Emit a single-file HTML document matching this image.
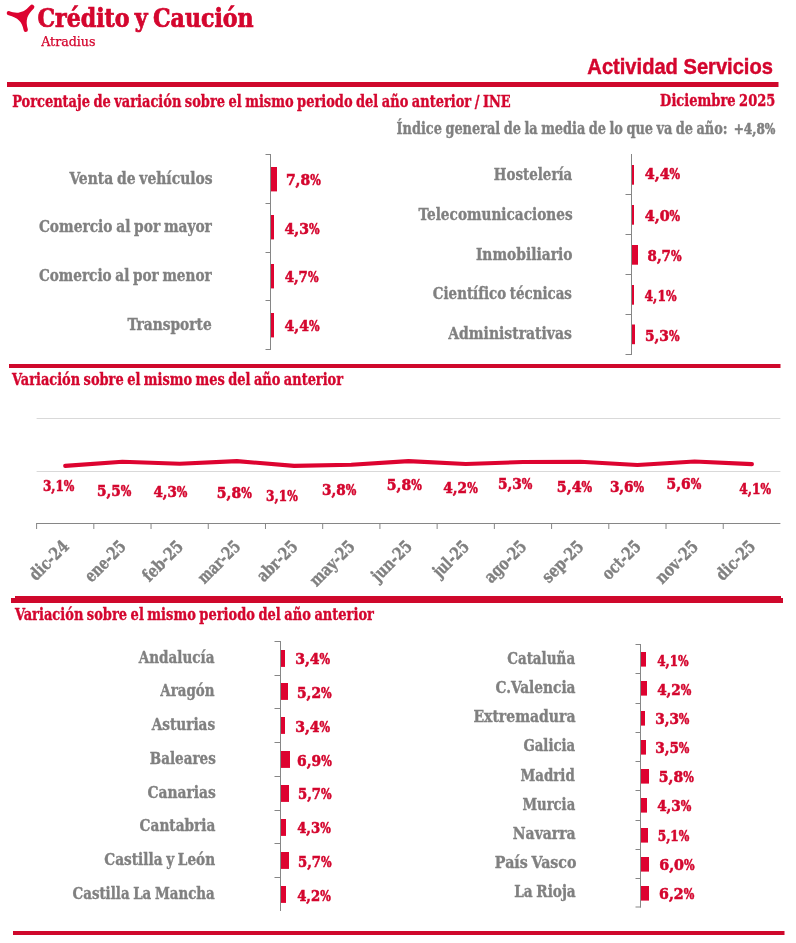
<!DOCTYPE html>
<html lang="es">
<head>
<meta charset="utf-8">
<title>Actividad Servicios - Crédito y Caución</title>
<style>
html,body{margin:0;padding:0;background:#fff}
body{width:796px;height:943px;overflow:hidden;font-family:'DejaVu Serif Condensed','DejaVu Serif','Liberation Serif',serif}
svg{display:block;will-change:transform;transform:translateZ(0)}
text{white-space:pre}
</style>
</head>
<body>
<svg width="796" height="943" viewBox="0 0 796 943">
<rect width="796" height="943" fill="#ffffff"/>
<path fill="#dd0330" d="M8.9 11.1 C16 13.6 22.5 14.2 30.2 5.5 A2.3 2.3 0 0 1 33.8 8.6 C27.5 14.5 25 20 27.9 29.6 A2.15 2.15 0 0 1 23.6 30 C22 21.5 18 17.8 8.6 15.2 A2.05 2.05 0 0 1 8.9 11.1 Z"/>
<text x="37.39" y="27.4" font-size="25.6" fill="#d4062e" font-weight="bold" font-family="'DejaVu Serif Condensed','DejaVu Serif','Liberation Serif',serif" stroke="#d4062e" stroke-width="0.7" word-spacing="-2.5" textLength="216.29" lengthAdjust="spacingAndGlyphs">Crédito y Caución</text>
<text x="41.20" y="46.2" font-size="12.4" fill="#d4062e" font-weight="normal" font-family="'DejaVu Serif Condensed','DejaVu Serif','Liberation Serif',serif" stroke="#d4062e" stroke-width="0.25" textLength="54.30" lengthAdjust="spacingAndGlyphs">Atradius</text>
<text x="587.36" y="73.5" font-size="22" fill="#d4062e" font-weight="bold" font-family="'Liberation Sans','DejaVu Sans',sans-serif" stroke="#d4062e" stroke-width="0.45" textLength="185.57" lengthAdjust="spacingAndGlyphs">Actividad Servicios</text>
<rect x="7.00" y="82.00" width="771.50" height="5.00" fill="#cf082c"/>
<text x="12.15" y="106.8" font-size="17.0" fill="#d4062e" font-weight="bold" font-family="'DejaVu Serif Condensed','DejaVu Serif','Liberation Serif',serif" stroke="#d4062e" stroke-width="0.35" word-spacing="-1.2" textLength="498.61" lengthAdjust="spacingAndGlyphs">Porcentaje de variación sobre el mismo periodo del año anterior / INE</text>
<text x="660.08" y="106.2" font-size="17.0" fill="#d4062e" font-weight="bold" font-family="'DejaVu Serif Condensed','DejaVu Serif','Liberation Serif',serif" stroke="#d4062e" stroke-width="0.35" word-spacing="-1.2" textLength="115.26" lengthAdjust="spacingAndGlyphs">Diciembre 2025</text>
<text x="396.52" y="133.5" font-size="17.0" fill="#808080" font-weight="bold" font-family="'DejaVu Serif Condensed','DejaVu Serif','Liberation Serif',serif" stroke="#808080" stroke-width="0.35" word-spacing="-1.2" textLength="331.11" lengthAdjust="spacingAndGlyphs">Índice general de la media de lo que va de año:</text>
<text x="733.63" y="133.5" font-size="15.5" fill="#808080" font-weight="bold" font-family="'DejaVu Serif Condensed','DejaVu Serif','Liberation Serif',serif" stroke="#808080" stroke-width="0.55"><tspan textLength="31.18" lengthAdjust="spacingAndGlyphs">+4,8</tspan><tspan textLength="10.60" lengthAdjust="spacingAndGlyphs">%</tspan></text>
<line x1="270.50" y1="154.00" x2="270.50" y2="350.00" stroke="#868686" stroke-width="1"/>
<line x1="265.50" y1="154.50" x2="271.00" y2="154.50" stroke="#868686" stroke-width="1"/>
<line x1="265.50" y1="203.50" x2="271.00" y2="203.50" stroke="#868686" stroke-width="1"/>
<line x1="265.50" y1="252.50" x2="271.00" y2="252.50" stroke="#868686" stroke-width="1"/>
<line x1="265.50" y1="300.50" x2="271.00" y2="300.50" stroke="#868686" stroke-width="1"/>
<line x1="265.50" y1="349.50" x2="271.00" y2="349.50" stroke="#868686" stroke-width="1"/>
<rect x="271.00" y="167.00" width="6.00" height="24.40" fill="#dd0330"/>
<text x="69.48" y="183.7" font-size="17.0" fill="#808080" font-weight="bold" font-family="'DejaVu Serif Condensed','DejaVu Serif','Liberation Serif',serif" stroke="#808080" stroke-width="0.35" word-spacing="-1.2" textLength="143.18" lengthAdjust="spacingAndGlyphs">Venta de vehículos</text>
<text x="285.93" y="184.8" font-size="15.5" fill="#d4062e" font-weight="bold" font-family="'DejaVu Serif Condensed','DejaVu Serif','Liberation Serif',serif" stroke="#d4062e" stroke-width="0.55"><tspan textLength="24.20" lengthAdjust="spacingAndGlyphs">7,8</tspan><tspan textLength="10.60" lengthAdjust="spacingAndGlyphs">%</tspan></text>
<rect x="271.00" y="215.00" width="3.00" height="24.40" fill="#dd0330"/>
<text x="38.89" y="232.2" font-size="17.0" fill="#808080" font-weight="bold" font-family="'DejaVu Serif Condensed','DejaVu Serif','Liberation Serif',serif" stroke="#808080" stroke-width="0.35" word-spacing="-1.2" textLength="173.00" lengthAdjust="spacingAndGlyphs">Comercio al por mayor</text>
<text x="284.59" y="233.6" font-size="15.5" fill="#d4062e" font-weight="bold" font-family="'DejaVu Serif Condensed','DejaVu Serif','Liberation Serif',serif" stroke="#d4062e" stroke-width="0.55"><tspan textLength="24.33" lengthAdjust="spacingAndGlyphs">4,3</tspan><tspan textLength="10.60" lengthAdjust="spacingAndGlyphs">%</tspan></text>
<rect x="271.00" y="264.00" width="3.00" height="24.40" fill="#dd0330"/>
<text x="38.93" y="280.6" font-size="17.0" fill="#808080" font-weight="bold" font-family="'DejaVu Serif Condensed','DejaVu Serif','Liberation Serif',serif" stroke="#808080" stroke-width="0.35" word-spacing="-1.2" textLength="172.79" lengthAdjust="spacingAndGlyphs">Comercio al por menor</text>
<text x="284.71" y="282.4" font-size="15.5" fill="#d4062e" font-weight="bold" font-family="'DejaVu Serif Condensed','DejaVu Serif','Liberation Serif',serif" stroke="#d4062e" stroke-width="0.55"><tspan textLength="23.19" lengthAdjust="spacingAndGlyphs">4,7</tspan><tspan textLength="10.60" lengthAdjust="spacingAndGlyphs">%</tspan></text>
<rect x="271.00" y="313.00" width="3.00" height="24.40" fill="#dd0330"/>
<text x="127.42" y="329.8" font-size="17.0" fill="#808080" font-weight="bold" font-family="'DejaVu Serif Condensed','DejaVu Serif','Liberation Serif',serif" stroke="#808080" stroke-width="0.35" textLength="84.28" lengthAdjust="spacingAndGlyphs">Transporte</text>
<text x="284.59" y="331.2" font-size="15.5" fill="#d4062e" font-weight="bold" font-family="'DejaVu Serif Condensed','DejaVu Serif','Liberation Serif',serif" stroke="#d4062e" stroke-width="0.55"><tspan textLength="24.33" lengthAdjust="spacingAndGlyphs">4,4</tspan><tspan textLength="10.60" lengthAdjust="spacingAndGlyphs">%</tspan></text>
<line x1="631.50" y1="154.00" x2="631.50" y2="355.00" stroke="#868686" stroke-width="1"/>
<line x1="625.50" y1="194.50" x2="632.00" y2="194.50" stroke="#868686" stroke-width="1"/>
<line x1="625.50" y1="234.50" x2="632.00" y2="234.50" stroke="#868686" stroke-width="1"/>
<line x1="625.50" y1="274.50" x2="632.00" y2="274.50" stroke="#868686" stroke-width="1"/>
<line x1="625.50" y1="314.50" x2="632.00" y2="314.50" stroke="#868686" stroke-width="1"/>
<line x1="625.50" y1="354.50" x2="632.00" y2="354.50" stroke="#868686" stroke-width="1"/>
<rect x="632.00" y="165.00" width="2.00" height="19.70" fill="#dd0330"/>
<text x="493.80" y="179.6" font-size="17.0" fill="#808080" font-weight="bold" font-family="'DejaVu Serif Condensed','DejaVu Serif','Liberation Serif',serif" stroke="#808080" stroke-width="0.35" textLength="78.47" lengthAdjust="spacingAndGlyphs">Hostelería</text>
<text x="644.72" y="178.9" font-size="15.5" fill="#d4062e" font-weight="bold" font-family="'DejaVu Serif Condensed','DejaVu Serif','Liberation Serif',serif" stroke="#d4062e" stroke-width="0.55"><tspan textLength="24.87" lengthAdjust="spacingAndGlyphs">4,4</tspan><tspan textLength="10.60" lengthAdjust="spacingAndGlyphs">%</tspan></text>
<rect x="632.00" y="205.00" width="2.00" height="19.70" fill="#dd0330"/>
<text x="418.58" y="219.9" font-size="17.0" fill="#808080" font-weight="bold" font-family="'DejaVu Serif Condensed','DejaVu Serif','Liberation Serif',serif" stroke="#808080" stroke-width="0.35" textLength="154.01" lengthAdjust="spacingAndGlyphs">Telecomunicaciones</text>
<text x="644.72" y="220.9" font-size="15.5" fill="#d4062e" font-weight="bold" font-family="'DejaVu Serif Condensed','DejaVu Serif','Liberation Serif',serif" stroke="#d4062e" stroke-width="0.55"><tspan textLength="24.87" lengthAdjust="spacingAndGlyphs">4,0</tspan><tspan textLength="10.60" lengthAdjust="spacingAndGlyphs">%</tspan></text>
<rect x="632.00" y="245.00" width="6.00" height="19.70" fill="#dd0330"/>
<text x="475.90" y="260.0" font-size="17.0" fill="#808080" font-weight="bold" font-family="'DejaVu Serif Condensed','DejaVu Serif','Liberation Serif',serif" stroke="#808080" stroke-width="0.35" textLength="96.60" lengthAdjust="spacingAndGlyphs">Inmobiliario</text>
<text x="647.54" y="260.8" font-size="15.5" fill="#d4062e" font-weight="bold" font-family="'DejaVu Serif Condensed','DejaVu Serif','Liberation Serif',serif" stroke="#d4062e" stroke-width="0.55"><tspan textLength="23.37" lengthAdjust="spacingAndGlyphs">8,7</tspan><tspan textLength="10.60" lengthAdjust="spacingAndGlyphs">%</tspan></text>
<rect x="632.00" y="285.00" width="2.00" height="19.70" fill="#dd0330"/>
<text x="432.85" y="298.6" font-size="17.0" fill="#808080" font-weight="bold" font-family="'DejaVu Serif Condensed','DejaVu Serif','Liberation Serif',serif" stroke="#808080" stroke-width="0.35" word-spacing="-1.2" textLength="139.07" lengthAdjust="spacingAndGlyphs">Científico técnicas</text>
<text x="644.58" y="300.7" font-size="15.5" fill="#d4062e" font-weight="bold" font-family="'DejaVu Serif Condensed','DejaVu Serif','Liberation Serif',serif" stroke="#d4062e" stroke-width="0.55"><tspan textLength="21.34" lengthAdjust="spacingAndGlyphs">4,1</tspan><tspan textLength="10.60" lengthAdjust="spacingAndGlyphs">%</tspan></text>
<rect x="632.00" y="324.50" width="3.00" height="19.70" fill="#dd0330"/>
<text x="448.26" y="338.7" font-size="17.0" fill="#808080" font-weight="bold" font-family="'DejaVu Serif Condensed','DejaVu Serif','Liberation Serif',serif" stroke="#808080" stroke-width="0.35" textLength="123.52" lengthAdjust="spacingAndGlyphs">Administrativas</text>
<text x="644.93" y="340.5" font-size="15.5" fill="#d4062e" font-weight="bold" font-family="'DejaVu Serif Condensed','DejaVu Serif','Liberation Serif',serif" stroke="#d4062e" stroke-width="0.55"><tspan textLength="23.99" lengthAdjust="spacingAndGlyphs">5,3</tspan><tspan textLength="10.60" lengthAdjust="spacingAndGlyphs">%</tspan></text>
<rect x="9.00" y="364.00" width="771.50" height="4.00" fill="#cf082c"/>
<text x="12.04" y="384.7" font-size="17.0" fill="#d4062e" font-weight="bold" font-family="'DejaVu Serif Condensed','DejaVu Serif','Liberation Serif',serif" stroke="#d4062e" stroke-width="0.35" word-spacing="-1.2" textLength="331.05" lengthAdjust="spacingAndGlyphs">Variación sobre el mismo mes del año anterior</text>
<line x1="36.60" y1="418.50" x2="780.40" y2="418.50" stroke="#d9d9d9" stroke-width="1"/>
<line x1="36.60" y1="471.50" x2="780.40" y2="471.50" stroke="#d9d9d9" stroke-width="1"/>
<polyline points="65.2,465.9 122.4,461.7 179.7,463.8 236.9,461.1 294.1,465.9 351.3,464.7 408.5,461.1 465.8,464.0 523.0,462.0 580.2,461.8 637.4,465.0 694.6,461.5 751.9,464.1" fill="none" stroke="#dd0330" stroke-width="4.1" stroke-linecap="round" stroke-linejoin="round"/>
<text x="42.88" y="491.0" font-size="15.5" fill="#d4062e" font-weight="bold" font-family="'DejaVu Serif Condensed','DejaVu Serif','Liberation Serif',serif" stroke="#d4062e" stroke-width="0.55"><tspan textLength="20.98" lengthAdjust="spacingAndGlyphs">3,1</tspan><tspan textLength="10.60" lengthAdjust="spacingAndGlyphs">%</tspan></text>
<text x="97.02" y="496.2" font-size="15.5" fill="#d4062e" font-weight="bold" font-family="'DejaVu Serif Condensed','DejaVu Serif','Liberation Serif',serif" stroke="#d4062e" stroke-width="0.55"><tspan textLength="23.84" lengthAdjust="spacingAndGlyphs">5,5</tspan><tspan textLength="10.60" lengthAdjust="spacingAndGlyphs">%</tspan></text>
<text x="153.50" y="496.7" font-size="15.5" fill="#d4062e" font-weight="bold" font-family="'DejaVu Serif Condensed','DejaVu Serif','Liberation Serif',serif" stroke="#d4062e" stroke-width="0.55"><tspan textLength="23.36" lengthAdjust="spacingAndGlyphs">4,3</tspan><tspan textLength="10.60" lengthAdjust="spacingAndGlyphs">%</tspan></text>
<text x="216.87" y="497.5" font-size="15.5" fill="#d4062e" font-weight="bold" font-family="'DejaVu Serif Condensed','DejaVu Serif','Liberation Serif',serif" stroke="#d4062e" stroke-width="0.55"><tspan textLength="24.27" lengthAdjust="spacingAndGlyphs">5,8</tspan><tspan textLength="10.60" lengthAdjust="spacingAndGlyphs">%</tspan></text>
<text x="266.12" y="500.8" font-size="15.5" fill="#d4062e" font-weight="bold" font-family="'DejaVu Serif Condensed','DejaVu Serif','Liberation Serif',serif" stroke="#d4062e" stroke-width="0.55"><tspan textLength="21.02" lengthAdjust="spacingAndGlyphs">3,1</tspan><tspan textLength="10.60" lengthAdjust="spacingAndGlyphs">%</tspan></text>
<text x="322.03" y="495.0" font-size="15.5" fill="#d4062e" font-weight="bold" font-family="'DejaVu Serif Condensed','DejaVu Serif','Liberation Serif',serif" stroke="#d4062e" stroke-width="0.55"><tspan textLength="23.68" lengthAdjust="spacingAndGlyphs">3,8</tspan><tspan textLength="10.60" lengthAdjust="spacingAndGlyphs">%</tspan></text>
<text x="386.80" y="489.7" font-size="15.5" fill="#d4062e" font-weight="bold" font-family="'DejaVu Serif Condensed','DejaVu Serif','Liberation Serif',serif" stroke="#d4062e" stroke-width="0.55"><tspan textLength="24.33" lengthAdjust="spacingAndGlyphs">5,8</tspan><tspan textLength="10.60" lengthAdjust="spacingAndGlyphs">%</tspan></text>
<text x="443.27" y="493.2" font-size="15.5" fill="#d4062e" font-weight="bold" font-family="'DejaVu Serif Condensed','DejaVu Serif','Liberation Serif',serif" stroke="#d4062e" stroke-width="0.55"><tspan textLength="23.86" lengthAdjust="spacingAndGlyphs">4,2</tspan><tspan textLength="10.60" lengthAdjust="spacingAndGlyphs">%</tspan></text>
<text x="498.00" y="488.9" font-size="15.5" fill="#d4062e" font-weight="bold" font-family="'DejaVu Serif Condensed','DejaVu Serif','Liberation Serif',serif" stroke="#d4062e" stroke-width="0.55"><tspan textLength="23.86" lengthAdjust="spacingAndGlyphs">5,3</tspan><tspan textLength="10.60" lengthAdjust="spacingAndGlyphs">%</tspan></text>
<text x="556.77" y="492.0" font-size="15.5" fill="#d4062e" font-weight="bold" font-family="'DejaVu Serif Condensed','DejaVu Serif','Liberation Serif',serif" stroke="#d4062e" stroke-width="0.55"><tspan textLength="24.79" lengthAdjust="spacingAndGlyphs">5,4</tspan><tspan textLength="10.60" lengthAdjust="spacingAndGlyphs">%</tspan></text>
<text x="609.88" y="491.7" font-size="15.5" fill="#d4062e" font-weight="bold" font-family="'DejaVu Serif Condensed','DejaVu Serif','Liberation Serif',serif" stroke="#d4062e" stroke-width="0.55"><tspan textLength="23.74" lengthAdjust="spacingAndGlyphs">3,6</tspan><tspan textLength="10.60" lengthAdjust="spacingAndGlyphs">%</tspan></text>
<text x="666.58" y="488.9" font-size="15.5" fill="#d4062e" font-weight="bold" font-family="'DejaVu Serif Condensed','DejaVu Serif','Liberation Serif',serif" stroke="#d4062e" stroke-width="0.55"><tspan textLength="24.12" lengthAdjust="spacingAndGlyphs">5,6</tspan><tspan textLength="10.60" lengthAdjust="spacingAndGlyphs">%</tspan></text>
<text x="739.30" y="494.0" font-size="15.5" fill="#d4062e" font-weight="bold" font-family="'DejaVu Serif Condensed','DejaVu Serif','Liberation Serif',serif" stroke="#d4062e" stroke-width="0.55"><tspan textLength="21.29" lengthAdjust="spacingAndGlyphs">4,1</tspan><tspan textLength="10.60" lengthAdjust="spacingAndGlyphs">%</tspan></text>
<line x1="36.10" y1="523.50" x2="780.40" y2="523.50" stroke="#868686" stroke-width="1"/>
<line x1="36.60" y1="523.50" x2="36.60" y2="529.00" stroke="#868686" stroke-width="1"/>
<line x1="93.82" y1="523.50" x2="93.82" y2="529.00" stroke="#868686" stroke-width="1"/>
<line x1="151.04" y1="523.50" x2="151.04" y2="529.00" stroke="#868686" stroke-width="1"/>
<line x1="208.26" y1="523.50" x2="208.26" y2="529.00" stroke="#868686" stroke-width="1"/>
<line x1="265.48" y1="523.50" x2="265.48" y2="529.00" stroke="#868686" stroke-width="1"/>
<line x1="322.70" y1="523.50" x2="322.70" y2="529.00" stroke="#868686" stroke-width="1"/>
<line x1="379.92" y1="523.50" x2="379.92" y2="529.00" stroke="#868686" stroke-width="1"/>
<line x1="437.14" y1="523.50" x2="437.14" y2="529.00" stroke="#868686" stroke-width="1"/>
<line x1="494.36" y1="523.50" x2="494.36" y2="529.00" stroke="#868686" stroke-width="1"/>
<line x1="551.58" y1="523.50" x2="551.58" y2="529.00" stroke="#868686" stroke-width="1"/>
<line x1="608.80" y1="523.50" x2="608.80" y2="529.00" stroke="#868686" stroke-width="1"/>
<line x1="666.02" y1="523.50" x2="666.02" y2="529.00" stroke="#868686" stroke-width="1"/>
<line x1="723.24" y1="523.50" x2="723.24" y2="529.00" stroke="#868686" stroke-width="1"/>
<text x="69.9" y="547.6" font-size="17.2" fill="#808080" text-anchor="end" font-weight="bold" font-family="'DejaVu Serif Condensed','DejaVu Serif','Liberation Serif',serif" stroke="#808080" stroke-width="0.35" textLength="48.0" lengthAdjust="spacingAndGlyphs" transform="rotate(-45 69.9 547.6)">dic-24</text>
<text x="127.1" y="547.6" font-size="17.2" fill="#808080" text-anchor="end" font-weight="bold" font-family="'DejaVu Serif Condensed','DejaVu Serif','Liberation Serif',serif" stroke="#808080" stroke-width="0.35" textLength="50.2" lengthAdjust="spacingAndGlyphs" transform="rotate(-45 127.1 547.6)">ene-25</text>
<text x="184.3" y="547.6" font-size="17.2" fill="#808080" text-anchor="end" font-weight="bold" font-family="'DejaVu Serif Condensed','DejaVu Serif','Liberation Serif',serif" stroke="#808080" stroke-width="0.35" textLength="49.5" lengthAdjust="spacingAndGlyphs" transform="rotate(-45 184.3 547.6)">feb-25</text>
<text x="241.6" y="547.6" font-size="17.2" fill="#808080" text-anchor="end" font-weight="bold" font-family="'DejaVu Serif Condensed','DejaVu Serif','Liberation Serif',serif" stroke="#808080" stroke-width="0.35" textLength="52.3" lengthAdjust="spacingAndGlyphs" transform="rotate(-45 241.6 547.6)">mar-25</text>
<text x="298.8" y="547.6" font-size="17.2" fill="#808080" text-anchor="end" font-weight="bold" font-family="'DejaVu Serif Condensed','DejaVu Serif','Liberation Serif',serif" stroke="#808080" stroke-width="0.35" textLength="49.7" lengthAdjust="spacingAndGlyphs" transform="rotate(-45 298.8 547.6)">abr-25</text>
<text x="356.0" y="547.6" font-size="17.2" fill="#808080" text-anchor="end" font-weight="bold" font-family="'DejaVu Serif Condensed','DejaVu Serif','Liberation Serif',serif" stroke="#808080" stroke-width="0.35" textLength="56.0" lengthAdjust="spacingAndGlyphs" transform="rotate(-45 356.0 547.6)">may-25</text>
<text x="413.2" y="547.6" font-size="17.2" fill="#808080" text-anchor="end" font-weight="bold" font-family="'DejaVu Serif Condensed','DejaVu Serif','Liberation Serif',serif" stroke="#808080" stroke-width="0.35" textLength="49.5" lengthAdjust="spacingAndGlyphs" transform="rotate(-45 413.2 547.6)">jun-25</text>
<text x="470.4" y="547.6" font-size="17.2" fill="#808080" text-anchor="end" font-weight="bold" font-family="'DejaVu Serif Condensed','DejaVu Serif','Liberation Serif',serif" stroke="#808080" stroke-width="0.35" textLength="43.5" lengthAdjust="spacingAndGlyphs" transform="rotate(-45 470.4 547.6)">jul-25</text>
<text x="527.7" y="547.6" font-size="17.2" fill="#808080" text-anchor="end" font-weight="bold" font-family="'DejaVu Serif Condensed','DejaVu Serif','Liberation Serif',serif" stroke="#808080" stroke-width="0.35" textLength="51.5" lengthAdjust="spacingAndGlyphs" transform="rotate(-45 527.7 547.6)">ago-25</text>
<text x="584.9" y="547.6" font-size="17.2" fill="#808080" text-anchor="end" font-weight="bold" font-family="'DejaVu Serif Condensed','DejaVu Serif','Liberation Serif',serif" stroke="#808080" stroke-width="0.35" textLength="51.0" lengthAdjust="spacingAndGlyphs" transform="rotate(-45 584.9 547.6)">sep-25</text>
<text x="642.1" y="547.6" font-size="17.2" fill="#808080" text-anchor="end" font-weight="bold" font-family="'DejaVu Serif Condensed','DejaVu Serif','Liberation Serif',serif" stroke="#808080" stroke-width="0.35" textLength="47.0" lengthAdjust="spacingAndGlyphs" transform="rotate(-45 642.1 547.6)">oct-25</text>
<text x="699.3" y="547.6" font-size="17.2" fill="#808080" text-anchor="end" font-weight="bold" font-family="'DejaVu Serif Condensed','DejaVu Serif','Liberation Serif',serif" stroke="#808080" stroke-width="0.35" textLength="52.5" lengthAdjust="spacingAndGlyphs" transform="rotate(-45 699.3 547.6)">nov-25</text>
<text x="756.6" y="547.6" font-size="17.2" fill="#808080" text-anchor="end" font-weight="bold" font-family="'DejaVu Serif Condensed','DejaVu Serif','Liberation Serif',serif" stroke="#808080" stroke-width="0.35" textLength="48.0" lengthAdjust="spacingAndGlyphs" transform="rotate(-45 756.6 547.6)">dic-25</text>
<rect x="15.00" y="596.00" width="766.00" height="4.00" fill="#cf082c"/>
<rect x="11.00" y="598.00" width="772.00" height="5.00" fill="#cf082c"/>
<text x="14.90" y="620.4" font-size="17.0" fill="#d4062e" font-weight="bold" font-family="'DejaVu Serif Condensed','DejaVu Serif','Liberation Serif',serif" stroke="#d4062e" stroke-width="0.35" word-spacing="-1.2" textLength="359.05" lengthAdjust="spacingAndGlyphs">Variación sobre el mismo periodo del año anterior</text>
<line x1="280.50" y1="641.00" x2="280.50" y2="911.00" stroke="#868686" stroke-width="1"/>
<line x1="274.50" y1="641.50" x2="281.00" y2="641.50" stroke="#868686" stroke-width="1"/>
<line x1="274.50" y1="675.50" x2="281.00" y2="675.50" stroke="#868686" stroke-width="1"/>
<line x1="274.50" y1="708.50" x2="281.00" y2="708.50" stroke="#868686" stroke-width="1"/>
<line x1="274.50" y1="742.50" x2="281.00" y2="742.50" stroke="#868686" stroke-width="1"/>
<line x1="274.50" y1="776.50" x2="281.00" y2="776.50" stroke="#868686" stroke-width="1"/>
<line x1="274.50" y1="810.50" x2="281.00" y2="810.50" stroke="#868686" stroke-width="1"/>
<line x1="274.50" y1="843.50" x2="281.00" y2="843.50" stroke="#868686" stroke-width="1"/>
<line x1="274.50" y1="877.50" x2="281.00" y2="877.50" stroke="#868686" stroke-width="1"/>
<rect x="281.00" y="650.00" width="4.00" height="16.90" fill="#dd0330"/>
<text x="138.66" y="662.6" font-size="17.0" fill="#808080" font-weight="bold" font-family="'DejaVu Serif Condensed','DejaVu Serif','Liberation Serif',serif" stroke="#808080" stroke-width="0.35" textLength="75.80" lengthAdjust="spacingAndGlyphs">Andalucía</text>
<text x="295.21" y="663.7" font-size="15.5" fill="#d4062e" font-weight="bold" font-family="'DejaVu Serif Condensed','DejaVu Serif','Liberation Serif',serif" stroke="#d4062e" stroke-width="0.55"><tspan textLength="24.38" lengthAdjust="spacingAndGlyphs">3,4</tspan><tspan textLength="10.60" lengthAdjust="spacingAndGlyphs">%</tspan></text>
<rect x="281.00" y="683.00" width="7.00" height="16.90" fill="#dd0330"/>
<text x="160.25" y="696.4" font-size="17.0" fill="#808080" font-weight="bold" font-family="'DejaVu Serif Condensed','DejaVu Serif','Liberation Serif',serif" stroke="#808080" stroke-width="0.35" textLength="54.18" lengthAdjust="spacingAndGlyphs">Aragón</text>
<text x="296.93" y="697.6" font-size="15.5" fill="#d4062e" font-weight="bold" font-family="'DejaVu Serif Condensed','DejaVu Serif','Liberation Serif',serif" stroke="#d4062e" stroke-width="0.55"><tspan textLength="24.11" lengthAdjust="spacingAndGlyphs">5,2</tspan><tspan textLength="10.60" lengthAdjust="spacingAndGlyphs">%</tspan></text>
<rect x="281.00" y="717.00" width="4.00" height="16.90" fill="#dd0330"/>
<text x="151.65" y="730.1" font-size="17.0" fill="#808080" font-weight="bold" font-family="'DejaVu Serif Condensed','DejaVu Serif','Liberation Serif',serif" stroke="#808080" stroke-width="0.35" textLength="63.50" lengthAdjust="spacingAndGlyphs">Asturias</text>
<text x="295.21" y="731.7" font-size="15.5" fill="#d4062e" font-weight="bold" font-family="'DejaVu Serif Condensed','DejaVu Serif','Liberation Serif',serif" stroke="#d4062e" stroke-width="0.55"><tspan textLength="24.38" lengthAdjust="spacingAndGlyphs">3,4</tspan><tspan textLength="10.60" lengthAdjust="spacingAndGlyphs">%</tspan></text>
<rect x="281.00" y="751.00" width="9.00" height="16.90" fill="#dd0330"/>
<text x="149.79" y="763.9" font-size="17.0" fill="#808080" font-weight="bold" font-family="'DejaVu Serif Condensed','DejaVu Serif','Liberation Serif',serif" stroke="#808080" stroke-width="0.35" textLength="65.96" lengthAdjust="spacingAndGlyphs">Baleares</text>
<text x="297.06" y="765.6" font-size="15.5" fill="#d4062e" font-weight="bold" font-family="'DejaVu Serif Condensed','DejaVu Serif','Liberation Serif',serif" stroke="#d4062e" stroke-width="0.55"><tspan textLength="24.07" lengthAdjust="spacingAndGlyphs">6,9</tspan><tspan textLength="10.60" lengthAdjust="spacingAndGlyphs">%</tspan></text>
<rect x="281.00" y="785.00" width="8.00" height="16.90" fill="#dd0330"/>
<text x="147.43" y="797.6" font-size="17.0" fill="#808080" font-weight="bold" font-family="'DejaVu Serif Condensed','DejaVu Serif','Liberation Serif',serif" stroke="#808080" stroke-width="0.35" textLength="68.44" lengthAdjust="spacingAndGlyphs">Canarias</text>
<text x="298.06" y="798.6" font-size="15.5" fill="#d4062e" font-weight="bold" font-family="'DejaVu Serif Condensed','DejaVu Serif','Liberation Serif',serif" stroke="#d4062e" stroke-width="0.55"><tspan textLength="22.98" lengthAdjust="spacingAndGlyphs">5,7</tspan><tspan textLength="10.60" lengthAdjust="spacingAndGlyphs">%</tspan></text>
<rect x="281.00" y="819.00" width="5.00" height="16.90" fill="#dd0330"/>
<text x="139.61" y="831.4" font-size="17.0" fill="#808080" font-weight="bold" font-family="'DejaVu Serif Condensed','DejaVu Serif','Liberation Serif',serif" stroke="#808080" stroke-width="0.35" textLength="75.82" lengthAdjust="spacingAndGlyphs">Cantabria</text>
<text x="297.17" y="832.7" font-size="15.5" fill="#d4062e" font-weight="bold" font-family="'DejaVu Serif Condensed','DejaVu Serif','Liberation Serif',serif" stroke="#d4062e" stroke-width="0.55"><tspan textLength="22.96" lengthAdjust="spacingAndGlyphs">4,3</tspan><tspan textLength="10.60" lengthAdjust="spacingAndGlyphs">%</tspan></text>
<rect x="281.00" y="852.00" width="8.00" height="16.90" fill="#dd0330"/>
<text x="104.32" y="865.2" font-size="17.0" fill="#808080" font-weight="bold" font-family="'DejaVu Serif Condensed','DejaVu Serif','Liberation Serif',serif" stroke="#808080" stroke-width="0.35" word-spacing="-1.2" textLength="110.85" lengthAdjust="spacingAndGlyphs">Castilla y León</text>
<text x="298.06" y="866.5" font-size="15.5" fill="#d4062e" font-weight="bold" font-family="'DejaVu Serif Condensed','DejaVu Serif','Liberation Serif',serif" stroke="#d4062e" stroke-width="0.55"><tspan textLength="22.98" lengthAdjust="spacingAndGlyphs">5,7</tspan><tspan textLength="10.60" lengthAdjust="spacingAndGlyphs">%</tspan></text>
<rect x="281.00" y="886.00" width="5.00" height="16.90" fill="#dd0330"/>
<text x="72.54" y="898.9" font-size="17.0" fill="#808080" font-weight="bold" font-family="'DejaVu Serif Condensed','DejaVu Serif','Liberation Serif',serif" stroke="#808080" stroke-width="0.35" word-spacing="-1.2" textLength="142.27" lengthAdjust="spacingAndGlyphs">Castilla La Mancha</text>
<text x="297.17" y="900.6" font-size="15.5" fill="#d4062e" font-weight="bold" font-family="'DejaVu Serif Condensed','DejaVu Serif','Liberation Serif',serif" stroke="#d4062e" stroke-width="0.55"><tspan textLength="22.96" lengthAdjust="spacingAndGlyphs">4,2</tspan><tspan textLength="10.60" lengthAdjust="spacingAndGlyphs">%</tspan></text>
<line x1="640.50" y1="644.00" x2="640.50" y2="907.50" stroke="#868686" stroke-width="1"/>
<line x1="635.50" y1="644.50" x2="641.00" y2="644.50" stroke="#868686" stroke-width="1"/>
<line x1="635.50" y1="673.50" x2="641.00" y2="673.50" stroke="#868686" stroke-width="1"/>
<line x1="635.50" y1="703.50" x2="641.00" y2="703.50" stroke="#868686" stroke-width="1"/>
<line x1="635.50" y1="732.50" x2="641.00" y2="732.50" stroke="#868686" stroke-width="1"/>
<line x1="635.50" y1="761.50" x2="641.00" y2="761.50" stroke="#868686" stroke-width="1"/>
<line x1="635.50" y1="790.50" x2="641.00" y2="790.50" stroke="#868686" stroke-width="1"/>
<line x1="635.50" y1="820.50" x2="641.00" y2="820.50" stroke="#868686" stroke-width="1"/>
<line x1="635.50" y1="849.50" x2="641.00" y2="849.50" stroke="#868686" stroke-width="1"/>
<line x1="635.50" y1="878.50" x2="641.00" y2="878.50" stroke="#868686" stroke-width="1"/>
<line x1="635.50" y1="907.00" x2="641.00" y2="907.00" stroke="#868686" stroke-width="1"/>
<rect x="641.00" y="652.00" width="5.00" height="14.60" fill="#dd0330"/>
<text x="507.15" y="663.5" font-size="17.0" fill="#808080" font-weight="bold" font-family="'DejaVu Serif Condensed','DejaVu Serif','Liberation Serif',serif" stroke="#808080" stroke-width="0.35" textLength="67.99" lengthAdjust="spacingAndGlyphs">Cataluña</text>
<text x="657.19" y="665.5" font-size="15.5" fill="#d4062e" font-weight="bold" font-family="'DejaVu Serif Condensed','DejaVu Serif','Liberation Serif',serif" stroke="#d4062e" stroke-width="0.55"><tspan textLength="20.85" lengthAdjust="spacingAndGlyphs">4,1</tspan><tspan textLength="10.60" lengthAdjust="spacingAndGlyphs">%</tspan></text>
<rect x="641.00" y="681.00" width="6.00" height="14.60" fill="#dd0330"/>
<text x="495.46" y="692.7" font-size="17.0" fill="#808080" font-weight="bold" font-family="'DejaVu Serif Condensed','DejaVu Serif','Liberation Serif',serif" stroke="#808080" stroke-width="0.35" textLength="80.08" lengthAdjust="spacingAndGlyphs">C.Valencia</text>
<text x="657.17" y="694.7" font-size="15.5" fill="#d4062e" font-weight="bold" font-family="'DejaVu Serif Condensed','DejaVu Serif','Liberation Serif',serif" stroke="#d4062e" stroke-width="0.55"><tspan textLength="23.62" lengthAdjust="spacingAndGlyphs">4,2</tspan><tspan textLength="10.60" lengthAdjust="spacingAndGlyphs">%</tspan></text>
<rect x="641.00" y="711.00" width="4.00" height="14.60" fill="#dd0330"/>
<text x="473.39" y="722.0" font-size="17.0" fill="#808080" font-weight="bold" font-family="'DejaVu Serif Condensed','DejaVu Serif','Liberation Serif',serif" stroke="#808080" stroke-width="0.35" textLength="102.14" lengthAdjust="spacingAndGlyphs">Extremadura</text>
<text x="655.19" y="723.8" font-size="15.5" fill="#d4062e" font-weight="bold" font-family="'DejaVu Serif Condensed','DejaVu Serif','Liberation Serif',serif" stroke="#d4062e" stroke-width="0.55"><tspan textLength="23.67" lengthAdjust="spacingAndGlyphs">3,3</tspan><tspan textLength="10.60" lengthAdjust="spacingAndGlyphs">%</tspan></text>
<rect x="641.00" y="740.00" width="5.00" height="14.60" fill="#dd0330"/>
<text x="523.38" y="751.2" font-size="17.0" fill="#808080" font-weight="bold" font-family="'DejaVu Serif Condensed','DejaVu Serif','Liberation Serif',serif" stroke="#808080" stroke-width="0.35" textLength="51.84" lengthAdjust="spacingAndGlyphs">Galicia</text>
<text x="655.19" y="753.0" font-size="15.5" fill="#d4062e" font-weight="bold" font-family="'DejaVu Serif Condensed','DejaVu Serif','Liberation Serif',serif" stroke="#d4062e" stroke-width="0.55"><tspan textLength="23.67" lengthAdjust="spacingAndGlyphs">3,5</tspan><tspan textLength="10.60" lengthAdjust="spacingAndGlyphs">%</tspan></text>
<rect x="641.00" y="769.00" width="8.00" height="14.60" fill="#dd0330"/>
<text x="520.51" y="780.5" font-size="17.0" fill="#808080" font-weight="bold" font-family="'DejaVu Serif Condensed','DejaVu Serif','Liberation Serif',serif" stroke="#808080" stroke-width="0.35" textLength="54.27" lengthAdjust="spacingAndGlyphs">Madrid</text>
<text x="658.80" y="782.2" font-size="15.5" fill="#d4062e" font-weight="bold" font-family="'DejaVu Serif Condensed','DejaVu Serif','Liberation Serif',serif" stroke="#d4062e" stroke-width="0.55"><tspan textLength="24.33" lengthAdjust="spacingAndGlyphs">5,8</tspan><tspan textLength="10.60" lengthAdjust="spacingAndGlyphs">%</tspan></text>
<rect x="641.00" y="798.00" width="6.00" height="14.60" fill="#dd0330"/>
<text x="522.42" y="809.7" font-size="17.0" fill="#808080" font-weight="bold" font-family="'DejaVu Serif Condensed','DejaVu Serif','Liberation Serif',serif" stroke="#808080" stroke-width="0.35" textLength="52.79" lengthAdjust="spacingAndGlyphs">Murcia</text>
<text x="657.17" y="811.4" font-size="15.5" fill="#d4062e" font-weight="bold" font-family="'DejaVu Serif Condensed','DejaVu Serif','Liberation Serif',serif" stroke="#d4062e" stroke-width="0.55"><tspan textLength="23.62" lengthAdjust="spacingAndGlyphs">4,3</tspan><tspan textLength="10.60" lengthAdjust="spacingAndGlyphs">%</tspan></text>
<rect x="641.00" y="828.00" width="7.00" height="14.60" fill="#dd0330"/>
<text x="512.84" y="838.9" font-size="17.0" fill="#808080" font-weight="bold" font-family="'DejaVu Serif Condensed','DejaVu Serif','Liberation Serif',serif" stroke="#808080" stroke-width="0.35" textLength="62.85" lengthAdjust="spacingAndGlyphs">Navarra</text>
<text x="657.67" y="840.5" font-size="15.5" fill="#d4062e" font-weight="bold" font-family="'DejaVu Serif Condensed','DejaVu Serif','Liberation Serif',serif" stroke="#d4062e" stroke-width="0.55"><tspan textLength="21.19" lengthAdjust="spacingAndGlyphs">5,1</tspan><tspan textLength="10.60" lengthAdjust="spacingAndGlyphs">%</tspan></text>
<rect x="641.00" y="857.00" width="8.00" height="14.60" fill="#dd0330"/>
<text x="494.87" y="868.2" font-size="17.0" fill="#808080" font-weight="bold" font-family="'DejaVu Serif Condensed','DejaVu Serif','Liberation Serif',serif" stroke="#808080" stroke-width="0.35" word-spacing="-1.2" textLength="81.65" lengthAdjust="spacingAndGlyphs">País Vasco</text>
<text x="659.22" y="869.7" font-size="15.5" fill="#d4062e" font-weight="bold" font-family="'DejaVu Serif Condensed','DejaVu Serif','Liberation Serif',serif" stroke="#d4062e" stroke-width="0.55"><tspan textLength="24.82" lengthAdjust="spacingAndGlyphs">6,0</tspan><tspan textLength="10.60" lengthAdjust="spacingAndGlyphs">%</tspan></text>
<rect x="641.00" y="886.00" width="8.00" height="14.60" fill="#dd0330"/>
<text x="514.17" y="897.4" font-size="17.0" fill="#808080" font-weight="bold" font-family="'DejaVu Serif Condensed','DejaVu Serif','Liberation Serif',serif" stroke="#808080" stroke-width="0.35" word-spacing="-1.2" textLength="61.55" lengthAdjust="spacingAndGlyphs">La Rioja</text>
<text x="659.09" y="898.9" font-size="15.5" fill="#d4062e" font-weight="bold" font-family="'DejaVu Serif Condensed','DejaVu Serif','Liberation Serif',serif" stroke="#d4062e" stroke-width="0.55"><tspan textLength="24.61" lengthAdjust="spacingAndGlyphs">6,2</tspan><tspan textLength="10.60" lengthAdjust="spacingAndGlyphs">%</tspan></text>
<rect x="13.00" y="931.00" width="771.50" height="4.00" fill="#cf082c"/>
</svg>
</body>
</html>
